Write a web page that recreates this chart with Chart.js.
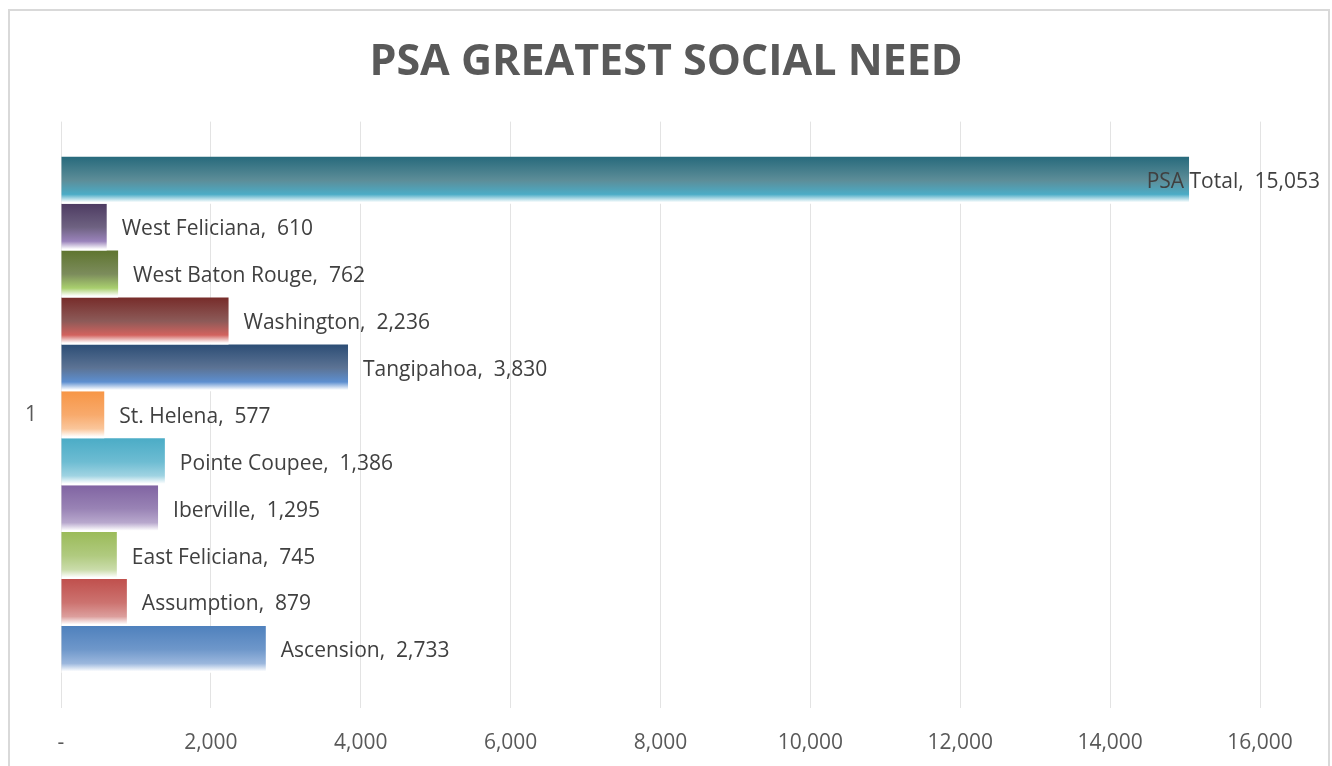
<!DOCTYPE html>
<html>
<head>
<meta charset="utf-8">
<script src="https://cdn.jsdelivr.net/npm/chart.js@4"></script>
<style>
  html, body { margin: 0; padding: 0; background: #fff; }
  #wrap { width: 1332px; height: 766px; position: relative; }
</style>
</head>
<body>
<div id="wrap"><canvas id="needChart" width="1332" height="766"></canvas></div>
<script>
// data, in Excel series order (first series sits at the bottom)
const categories = ['1'];
const seriesNames = ['Ascension', 'Assumption', 'East Feliciana', 'Iberville', 'Pointe Coupee',
  'St. Helena', 'Tangipahoa', 'Washington', 'West Baton Rouge', 'West Feliciana', 'PSA Total'];
const seriesValues = [2733, 879, 745, 1295, 1386, 577, 3830, 2236, 762, 610, 15053];
const xMin = 0, xMax = 16000, xStep = 2000;

// gradient colours per series: top, middle, lower
const topColors = ['#4f81bd', '#c0504d', '#9bbb59', '#8064a2', '#4bacc6', '#f79646',
  '#2c4d75', '#772c2a', '#5f7530', '#4d3b62', '#276a7c'];
const midColors = ['#6e97ca', '#cc726f', '#b0ca7f', '#9983b5', '#6dbcd2', '#f8aa6c',
  '#5c7394', '#8c5a58', '#7c8c5c', '#6e6281', '#5d8d98'];
const lowColors = ['#9bb7dd', '#dc9e9c', '#cadcaa', '#b8a8cd', '#9fd3e2', '#fac69b',
  '#5d8fd0', '#d2625e', '#a9cf6e', '#9a83bb', '#4bacc6'];

const catPct = 0.88;
const order = seriesNames.map((_, i) => i).reverse(); // top bar first

function barGradient(ctx, k) {
  const chart = ctx.chart;
  const area = chart.chartArea;
  const i = order[k];
  if (!area) return topColors[i];
  const yScale = chart.scales.y;
  const center = yScale.getPixelForValue(0);
  const size = (area.bottom - area.top) * catPct;
  const each = size / order.length;
  const top = center - size / 2 + k * each;
  const g = chart.ctx.createLinearGradient(0, top, 0, top + each);
  g.addColorStop(0, topColors[i]);
  g.addColorStop(0.5, midColors[i]);
  g.addColorStop(0.8, lowColors[i]);
  g.addColorStop(0.97, '#ffffff');
  g.addColorStop(1, '#ffffff');
  return g;
}

const datasets = order.map((i, k) => ({
  label: seriesNames[i],
  data: [seriesValues[i]],
  backgroundColor: (ctx) => barGradient(ctx, k),
  borderWidth: 0,
  barPercentage: 1,
  categoryPercentage: catPct
}));

const frame = {
  id: 'frame',
  beforeDraw(chart) {
    const c = chart.ctx;
    c.save();
    c.fillStyle = '#ffffff';
    c.fillRect(0, 0, chart.width, chart.height);
    c.strokeStyle = '#d9d9d9';
    c.lineWidth = 2;
    c.strokeRect(9, 10, 1320, 800);
    c.restore();
  }
};

const barLabels = {
  id: 'barLabels',
  afterDatasetsDraw(chart) {
    const c = chart.ctx;
    c.save();
    c.font = '21px "Open Sans"';
    c.fillStyle = '#404040';
    c.textBaseline = 'middle';
    chart.data.datasets.forEach((ds, k) => {
      const el = chart.getDatasetMeta(k).data[0];
      const txt = ds.label + ',  ' + ds.data[0].toLocaleString('en-US');
      const w = c.measureText(txt).width;
      let x = el.x + 15;
      if (x + w > 1320) x = 1320 - w;
      c.fillText(txt, x, el.y + 2);
    });
    c.restore();
  }
};

new Chart(document.getElementById('needChart'), {
  type: 'bar',
  data: { labels: categories, datasets },
  plugins: [frame, barLabels],
  options: {
    indexAxis: 'y',
    responsive: false,
    animation: false,
    layout: { padding: 0 },
    plugins: {
      legend: { display: false },
      tooltip: { enabled: false },
      title: {
        display: true,
        text: 'PSA GREATEST SOCIAL NEED',
        color: '#595959',
        font: { family: 'Open Sans', size: 43, weight: 'bold' },
        padding: { top: 37, bottom: 33 }
      }
    },
    scales: {
      x: {
        min: xMin,
        max: xMax,
        ticks: {
          stepSize: xStep,
          padding: 22,
          color: '#595959',
          font: { family: 'Open Sans', size: 21 },
          callback: v => v === 0 ? '-' : v.toLocaleString('en-US')
        },
        grid: { color: '#e3e3e3', lineWidth: 1, drawTicks: false },
        border: { display: false },
        afterFit: s => { s.height = 58; }
      },
      y: {
        ticks: {
          padding: 24,
          color: '#595959',
          font: { family: 'Open Sans', size: 21 }
        },
        grid: { display: false, drawTicks: false },
        border: { display: false },
        afterFit: s => { s.width = 61; }
      },
      yRight: {
        position: 'right',
        type: 'category',
        labels: categories,
        ticks: { display: false },
        grid: { display: false, drawTicks: false },
        border: { display: false },
        afterFit: s => { s.width = 72; }
      }
    }
  }
});
</script>
</body>
</html>
